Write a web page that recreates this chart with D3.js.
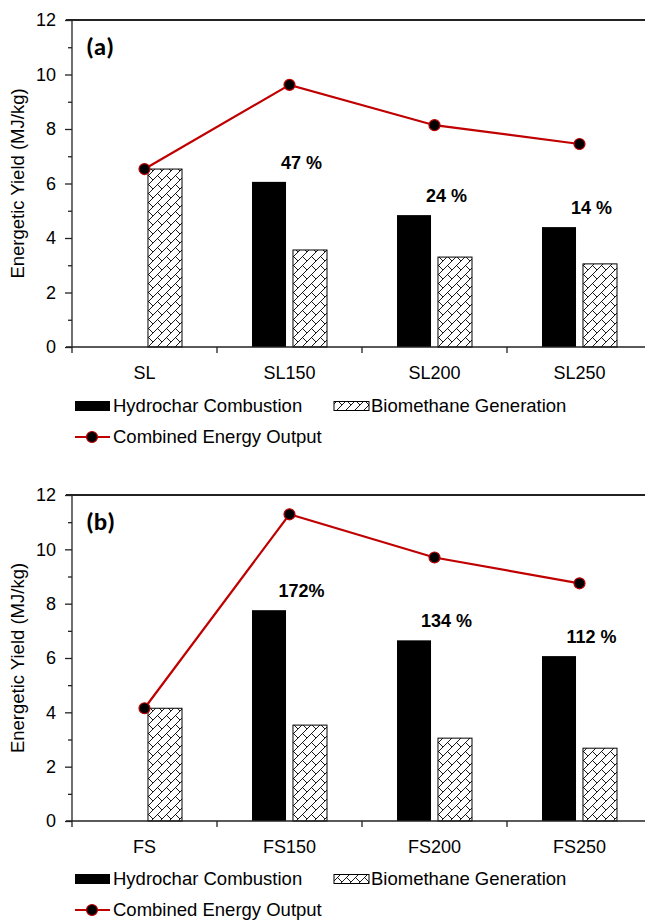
<!DOCTYPE html>
<html>
<head>
<script src="https://cdnjs.cloudflare.com/ajax/libs/d3/7.8.5/d3.min.js"></script>
<style>
  body { margin: 0; background: #fff; }
  svg { display: block; font-family: "Liberation Sans", Arial, sans-serif; }
</style>
</head>
<body>
<div id="chart"></div>
<script>
// Panel (a)
var catsA = ["SL", "SL150", "SL200", "SL250"];
var hydroA = [0, 6.06, 4.84, 4.40];
var bioA = [6.53, 3.56, 3.30, 3.05];
var combinedA = [6.53, 9.62, 8.14, 7.45];
var pctA = ["", "47 %", "24 %", "14 %"];

// Panel (b)
var catsB = ["FS", "FS150", "FS200", "FS250"];
var hydroB = [0, 7.76, 6.65, 6.07];
var bioB = [4.15, 3.53, 3.05, 2.68];
var combinedB = [4.15, 11.29, 9.70, 8.75];
var pctB = ["", "172%", "134 %", "112 %"];

var majorTicks = [0, 2, 4, 6, 8, 10, 12];
var minorTicks = [1, 3, 5, 7, 9, 11];
var legendLabels = ["Hydrochar Combustion", "Biomethane Generation", "Combined Energy Output"];

var width = 645, height = 920;
var red = "#c00000";

var svg = d3.select("#chart").append("svg")
    .attr("width", width)
    .attr("height", height);

// diagonal brick fill
var pat = svg.append("defs").append("pattern")
    .attr("id", "brick")
    .attr("patternUnits", "userSpaceOnUse")
    .attr("width", 9).attr("height", 9);
pat.append("rect").attr("width", 9).attr("height", 9).attr("fill", "#fff");
pat.append("path")
    .attr("d", "M0,9L9,0M-1,1L1,-1M8,10L10,8M4.5,4.5L9,9")
    .attr("stroke", "#000").attr("stroke-width", 0.9).attr("fill", "none");

function panel(cats, hydro, bio, combined, pct, tag, top, bottom, legY) {
    var g = svg.append("g");

    var x = d3.scaleBand().domain(cats).range([72, 652]);
    var x1 = d3.scaleBand().domain(["hydro", "bio"]).range([35, 110]).paddingInner(0.17);
    var y = d3.scaleLinear().domain([0, 12]).range([bottom, top]);

    // top border
    g.append("line").attr("x1", 66).attr("x2", width)
        .attr("y1", top).attr("y2", top)
        .attr("stroke", "#222").attr("stroke-width", 2);

    // y axis
    var yAxis = g.append("g").attr("transform", "translate(72,0)")
        .call(d3.axisLeft(y).tickValues(majorTicks).tickSize(7).tickPadding(9).tickFormat(d3.format("d")));
    g.append("g").attr("transform", "translate(72,0)")
        .call(d3.axisLeft(y).tickValues(minorTicks).tickSize(4).tickFormat(""))
        .select(".domain").remove();
    yAxis.select(".domain").attr("d", "M0," + top + "V" + bottom);
    g.selectAll(".tick line").attr("stroke", "#222").attr("stroke-width", 1.3);
    yAxis.select(".domain").attr("stroke", "#222").attr("stroke-width", 1.3);
    yAxis.selectAll("text").attr("font-size", 18).attr("fill", "#000")
        .style("font-family", "Liberation Sans, Arial, sans-serif");

    g.append("text")
        .attr("transform", "translate(24," + ((top + bottom) / 2) + ") rotate(-90)")
        .attr("text-anchor", "middle")
        .attr("font-size", 18.5)
        .text("Energetic Yield (MJ/kg)");

    // bars
    var grp = g.selectAll(".grp").data(cats).enter().append("g")
        .attr("transform", function(d) { return "translate(" + x(d) + ",0)"; });
    grp.append("rect")
        .attr("x", x1("hydro")).attr("width", x1.bandwidth())
        .attr("y", function(d, i) { return y(hydro[i]); })
        .attr("height", function(d, i) { return y(0) - y(hydro[i]); })
        .attr("fill", "#000");
    grp.append("rect")
        .attr("x", x1("bio")).attr("width", x1.bandwidth())
        .attr("y", function(d, i) { return y(bio[i]); })
        .attr("height", function(d, i) { return y(0) - y(bio[i]); })
        .attr("fill", "url(#brick)")
        .attr("stroke", "#000").attr("stroke-width", 1);

    // x axis
    g.append("line").attr("x1", 66).attr("x2", width)
        .attr("y1", bottom).attr("y2", bottom)
        .attr("stroke", "#222").attr("stroke-width", 1.5);
    g.selectAll(".xt").data(cats).enter().append("line")
        .attr("x1", function(d) { return x(d); }).attr("x2", function(d) { return x(d); })
        .attr("y1", bottom).attr("y2", bottom + 6)
        .attr("stroke", "#222").attr("stroke-width", 1.3);
    g.selectAll(".xl").data(cats).enter().append("text")
        .attr("x", function(d) { return x(d) + x.bandwidth() / 2; })
        .attr("y", bottom + 32)
        .attr("text-anchor", "middle")
        .attr("font-size", 18)
        .text(function(d) { return d; });

    // percent labels
    g.selectAll(".pct").data(cats).enter().append("text")
        .attr("x", function(d) { return x(d) + x.bandwidth() / 2 + 12; })
        .attr("y", function(d, i) { return y(hydro[i]) - 13; })
        .attr("text-anchor", "middle")
        .attr("font-size", 18).attr("font-weight", "bold")
        .text(function(d, i) { return pct[i]; });

    // combined line
    var line = d3.line()
        .x(function(d, i) { return x(cats[i]) + x.bandwidth() / 2; })
        .y(function(d) { return y(d); });
    g.append("path").datum(combined)
        .attr("d", line)
        .attr("fill", "none").attr("stroke", red).attr("stroke-width", 2.2);
    g.selectAll(".pt").data(combined).enter().append("circle")
        .attr("cx", function(d, i) { return x(cats[i]) + x.bandwidth() / 2; })
        .attr("cy", function(d) { return y(d); })
        .attr("r", 5.5)
        .attr("fill", "#000").attr("stroke", red).attr("stroke-width", 1.2);

    g.append("text")
        .attr("x", 86).attr("y", top + 35)
        .attr("font-size", 25).attr("font-weight", "bold")
        .style("font-family", "Carlito, 'Noto Sans', sans-serif")
        .text(tag);

    // legend
    var lg = g.append("g");
    lg.append("rect").attr("x", 75).attr("y", legY - 5).attr("width", 35).attr("height", 10).attr("fill", "#000");
    lg.append("text").attr("x", 113).attr("y", legY + 6).attr("font-size", 18.5).text(legendLabels[0]);
    lg.append("rect").attr("x", 334).attr("y", legY - 4.5).attr("width", 35).attr("height", 9)
        .attr("fill", "url(#brick)").attr("stroke", "#000").attr("stroke-width", 1);
    lg.append("text").attr("x", 371).attr("y", legY + 6).attr("font-size", 18.5).text(legendLabels[1]);
    lg.append("line").attr("x1", 75).attr("x2", 110).attr("y1", legY + 31).attr("y2", legY + 31)
        .attr("stroke", red).attr("stroke-width", 2.2);
    lg.append("circle").attr("cx", 92).attr("cy", legY + 31).attr("r", 5.5)
        .attr("fill", "#000").attr("stroke", red).attr("stroke-width", 1.2);
    lg.append("text").attr("x", 113).attr("y", legY + 37).attr("font-size", 18.5).text(legendLabels[2]);
}

panel(catsA, hydroA, bioA, combinedA, pctA, "(a)", 20, 347, 406);
panel(catsB, hydroB, bioB, combinedB, pctB, "(b)", 495, 821, 879);
</script>
</body>
</html>
